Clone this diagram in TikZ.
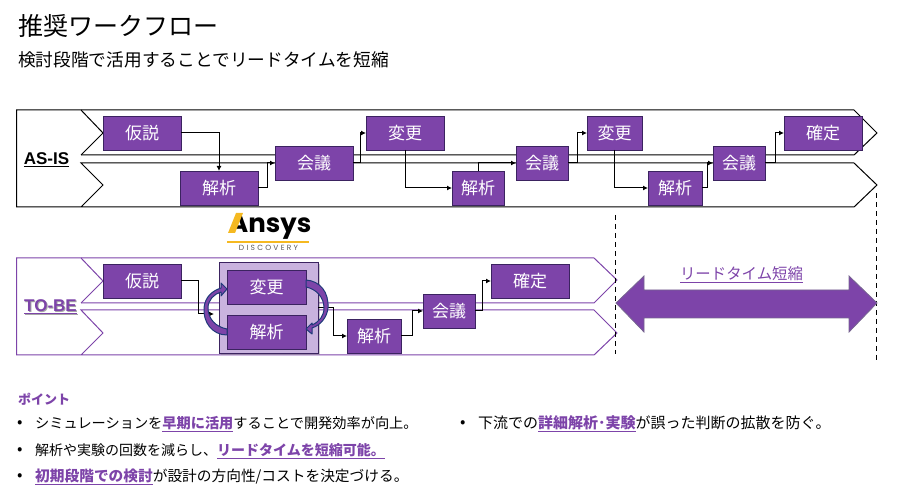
\documentclass[tikz,border=0pt]{standalone}
\usepackage{fontspec}
\usepackage{xcolor}
\setmainfont{Noto Sans CJK JP}
\newfontfamily\latinbold{Liberation Sans}
\newfontfamily\logofont{Poppins}
\usetikzlibrary{positioning,arrows.meta,shadows}

\definecolor{keypurple}{HTML}{7D44A9}
\definecolor{darkpurple}{HTML}{3B2360}
\definecolor{palepurple}{HTML}{C9B3DE}
\definecolor{loopnavy}{HTML}{1F3A7A}
\definecolor{logoyellow}{HTML}{F5B921}

\newcommand{\keytxt}[1]{\textcolor{keypurple}{\underline{\textbf{#1}}}}

\tikzset{
  procbox/.style={draw=darkpurple,fill=keypurple,text=white,line width=0.8pt,inner sep=0pt,outer sep=0pt,
    minimum height=34pt,minimum width=78pt,font=\fontsize{17}{17}\selectfont},
  band/.style={line width=1pt},
  flow/.style={line width=1pt,-{Latex[length=5pt,width=5pt]}},
  looparrow/.style={draw=loopnavy,fill=keypurple,line width=1pt,line join=round},
  bodytxt/.style={anchor=west,inner sep=0pt},
  dashline/.style={line width=1pt,dash pattern=on 5pt off 4pt},
}

\begin{document}
\begin{tikzpicture}[x=1pt,y=-1pt]
  \useasboundingbox (0,0) rectangle (911,494);
  % heading
  \node[anchor=west,inner sep=0pt,font=\fontsize{25}{25}\selectfont] (title) at (18,26) {推奨ワークフロー};
  \node[anchor=west,inner sep=0pt,font=\fontsize{17.7}{17.7}\selectfont] (subtitle) at (18,60) {検討段階で活用することでリードタイムを短縮};

  % bands
  \draw[band] (81,155) -- (103,133) -- (81,110) -- (16.5,110) -- (16.5,207) -- (81,207) -- (103,185) -- (81,163) -- (854,163) -- (877,185) -- (854,207) -- (81,207);
  \draw[band] (81,155) -- (854,155) -- (877,133) -- (854,110) -- (81,110);
  \draw[band,keypurple] (81,303) -- (103,281) -- (81,258) -- (16.5,258) -- (16.5,355) -- (81,355) -- (103,333) -- (81,310) -- (594,310) -- (617,333) -- (594,355) -- (81,355);
  \draw[band,keypurple] (81,303) -- (594,303) -- (617,280) -- (594,258) -- (81,258);

  \node[inner sep=0pt,font=\latinbold\bfseries\fontsize{17}{17}\selectfont] (asis) at (46.5,160) {\underline{AS-IS}};
  \node[inner sep=0pt,text=black!35,font=\latinbold\bfseries\fontsize{17}{17}\selectfont] (tobeshadow) at (51.5,307.5) {\underline{TO-BE}};
  \node[inner sep=0pt,text=keypurple,font=\latinbold\bfseries\fontsize{17}{17}\selectfont] (tobe) at (50.5,306.5) {\underline{TO-BE}};

  % as-is row
  \node[procbox] (hypA) at (142,133) {仮説};
  \node[procbox,below right=21pt and -1pt of hypA] (anlA) {解析};
  \node[procbox,above right=-9pt and 17pt of anlA] (mtgA) {会議};
  \node[procbox,above right=-4pt and 13pt of mtgA] (chgA) {変更};
  \node[procbox,minimum width=52pt,below right=21pt and 8pt of chgA] (anlB) {解析};
  \node[procbox,minimum width=52pt,above right=-9pt and 12pt of anlB] (mtgB) {会議};
  \node[procbox,minimum width=55pt,above right=-4pt and 19pt of mtgB] (chgB) {変更};
  \node[procbox,minimum width=54pt,below right=21pt and 6pt of chgB] (anlC) {解析};
  \node[procbox,minimum width=52pt,above right=-9pt and 11pt of anlC] (mtgC) {会議};
  \node[procbox,above right=-4pt and 19pt of mtgC] (fixA) {確定};

  \draw[flow] (hypA) -| (anlA);
  \draw[flow] (anlA.east) -- ++(9,0) |- (mtgA);
  \draw[flow] (mtgA.east) -- ++(7,0) |- (chgA);
  \draw[flow] (chgA) |- (anlB);
  \draw[flow] (anlB) |- (mtgB);
  \draw[flow] (mtgB.east) -- ++(9,0) |- (chgB);
  \draw[flow] (chgB) |- (anlC);
  \draw[flow] (anlC.east) -- ++(5,0) |- (mtgC);
  \draw[flow] (mtgC.east) -- ++(10,0) |- (fixA);

  % to-be row
  \node[procbox] (hypB) at (142,281) {仮説};
  \node[draw=darkpurple,fill=palepurple,line width=0.8pt,outer sep=0pt,minimum width=99pt,minimum height=91pt,
    drop shadow={shadow xshift=1.5pt,shadow yshift=-2.5pt,opacity=0.4}] (simbox) at (268.5,307.5) {};
  \node[procbox,minimum width=79pt] (chgC) at (266.5,287) {変更};
  \node[procbox,minimum width=79pt,below=11pt of chgC] (anlD) {解析};
  \node[procbox,minimum width=54pt,below right=-30pt and 41pt of anlD] (anlE) {解析};
  \node[procbox,minimum width=52pt,above right=-9pt and 22pt of anlE] (mtgD) {会議};
  \node[procbox,above right=-4pt and 16pt of mtgD] (fixB) {確定};
  \coordinate (simin) at (214,314);

  \draw[flow] (hypB.east) -- ++(17,0) |- (simin);
  \draw[flow] (simbox.east) -- ++(15,0) |- (anlE);
  \draw[flow] (anlE.east) -- ++(11,0) |- (mtgD);
  \draw[flow] (mtgD.east) -- ++(7,0) |- (fixB);

  % loop between the two boxes
  \draw[looparrow] ([yshift=-3pt]anlD.west) .. controls (212,335) and (203,322) .. (204,308)
    .. controls (205,297) and (212,291) .. (221,288) -- (221,283) -- ([yshift=-2pt]chgC.west) -- (221,296) -- (221,292)
    .. controls (214,294) and (208,300) .. (208,308)
    .. controls (208,319) and (216,327) .. ([yshift=3pt]anlD.west) -- cycle;
  \draw[looparrow] ([yshift=7pt]chgC.east) .. controls (320,281) and (329,292) .. (328,308)
    .. controls (327,317) and (321,325) .. (312,328) -- (312,334) -- ([yshift=3pt]anlD.east) -- (312,323) -- (312,325)
    .. controls (319,322) and (324,316) .. (324,308)
    .. controls (324,297) and (316,289) .. (chgC.east) -- cycle;

  % logo
  \node[inner sep=0pt,anchor=base west,font=\logofont\bfseries\fontsize{26}{26}\selectfont] (logoname) at (229,233) {Ansys};
  \fill[white] (226,235) -- (226,212) -- (240,212) -- (234,235) -- cycle;
  \fill[logoyellow] (228,233) -- (236,213) -- (243,213) -- (235,233) -- cycle;
  \draw[logoyellow,line width=1.5pt] (227,242) -- (309,242);
  \node[inner sep=0pt,text=black!65,font=\logofont\fontsize{7.5}{7.5}\selectfont] (logosub) at (268.5,248) {\addfontfeatures{LetterSpace=30}DISCOVERY};

  % lead time
  \draw[dashline] (615.5,215) -- (615.5,354);
  \draw[dashline] (876.5,193) -- (876.5,362);
  \draw[draw=darkpurple!70,fill=keypurple,line width=0.8pt] (616,303) -- (644,276) -- (644,290) -- (849,290) -- (849,276) -- (877,303) -- (849,332) -- (849,318) -- (644,318) -- (644,332) -- cycle;
  \node[inner sep=0pt,text=keypurple,font=\fontsize{15.4}{15.4}\selectfont] (leadlabel) at (741.5,275) {\underline{リードタイム短縮}};

  % points
  \node[bodytxt,text=keypurple,font=\bfseries\fontsize{13}{13}\selectfont] (pointhead) at (18,399) {ポイント};
  \node[bodytxt,font=\fontsize{16}{16}\selectfont] (dotA) at (17,424) {•};
  \node[bodytxt,font=\fontsize{14.2}{14.2}\selectfont] (lineA) at (35,424) {シミュレーションを\keytxt{早期に活用}することで開発効率が向上。};
  \node[bodytxt,font=\fontsize{16}{16}\selectfont] (dotB) at (17,451) {•};
  \node[bodytxt,font=\fontsize{14}{14}\selectfont] (lineB) at (35,451) {解析や実験の回数を減らし、\keytxt{リードタイムを短縮可能。}};
  \node[bodytxt,font=\fontsize{16}{16}\selectfont] (dotC) at (17,477) {•};
  \node[bodytxt,font=\fontsize{14.7}{14.7}\selectfont] (lineC) at (35,477) {\keytxt{初期段階での検討}が設計の方向性/コストを決定づける。};
  \node[bodytxt,font=\fontsize{16}{16}\selectfont] (dotD) at (460,424) {•};
  \node[bodytxt,font=\fontsize{15}{15}\selectfont] (lineD) at (478,424) {下流での\keytxt{詳細解析･実験}が誤った判断の拡散を防ぐ。};
\end{tikzpicture}
\end{document}
